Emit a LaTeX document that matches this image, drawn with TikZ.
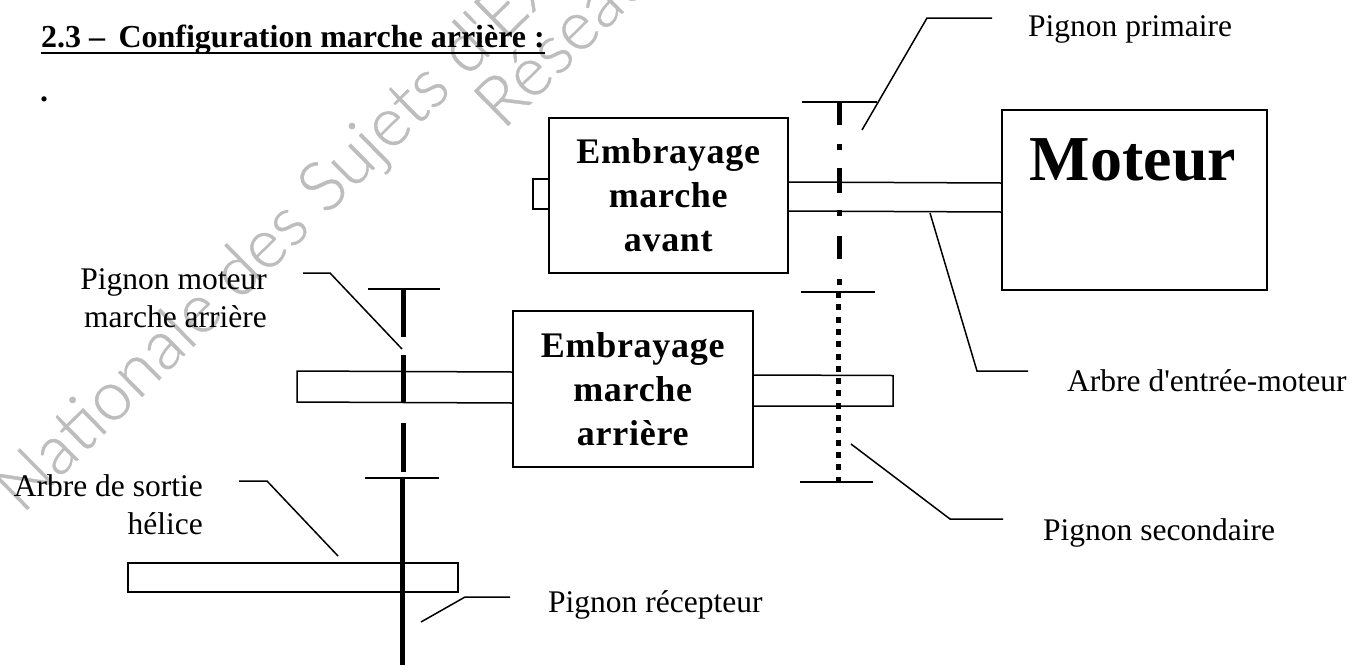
\documentclass[tikz,border=0pt]{standalone}
\usepackage{fontspec}
\setmainfont{Liberation Serif}
\newfontfamily\espace[LetterSpace=2.0]{Liberation Serif}
\newfontfamily\filigrane[FakeBold=0.6]{Lato Light}
\definecolor{gris}{gray}{0.74}
\begin{document}
\begin{tikzpicture}[x=1pt, y=-1pt, line join=miter, line cap=butt]
	\tikzset{every node/.style={inner sep=0pt, font=\fontsize{31.5}{38}\selectfont},
		boite/.style={draw, line width=1.5pt, anchor=north west, align=center},
		embrayage/.style={boite, minimum width=239pt, font=\fontsize{36}{44}\espace\bfseries},
		legende/.style={anchor=base west},
		trait/.style={line width=1.5pt},
		filig/.style={rotate=44.5, anchor=base west, text=gris, font=\fontsize{69}{69}\filigrane},
		pignon/.style={line width=5pt}}
	\useasboundingbox (0,0) rectangle (1352,667);
	\clip (0,0) rectangle (1352,667);
	% filigrane
	\node[filig] (fil1) at (22,515) {Nationale des Sujets d'Exa};
	\node[filig] (fil2) at (503,131) {Réseau};
	% titre
	\node[legende, font=\fontsize{32}{38}\selectfont\bfseries] (titre) at (41,47) {2.3 –\, Configuration marche arrière :};
	\draw[line width=2.4pt] ([yshift=-6pt]titre.base west) -- ([yshift=-6pt]titre.base east);
	\node[legende, font=\fontsize{32}{38}\selectfont\bfseries] (point) at (40,101) {.};
	% boites
	\node[embrayage, minimum height=155pt] (avant) at (548,117) {Embrayage\\marche\\avant};
	\node[embrayage, minimum width=240pt, minimum height=156pt] (arriere) at (512,310) {Embrayage\\marche\\arrière};
	\node[boite, minimum width=265pt, minimum height=180pt] (moteur) at (1001,109) {};
	\node[font=\fontsize{64}{64}\selectfont\bfseries] (moteurtxt) at (1133,160) {Moteur};
	% arbres
	\draw[trait] (avant.west |- 0,179) -- (533,179) -- (533,209) -- (avant.west |- 0,209);
	\draw[trait] (avant.east |- 0,182) -- (moteur.west |- 0,183);
	\draw[trait] (avant.east |- 0,211) -- (moteur.west |- 0,212);
	\draw[trait] (arriere.west |- 0,372) -- (297,371) -- (297,402) -- (arriere.west |- 0,403);
	\draw[trait] (arriere.east |- 0,375) -- (893,375.5) -- (893,406) -- (arriere.east |- 0,406);
	\draw[trait] (128,563) rectangle (458,592);
	% pignons
	\draw[trait] (802,102) -- (877,102);
	\draw[trait] (801,292) -- (875,292);
	\draw[trait] (800,482) -- (873,482);
	\draw[trait] (368,289) -- (440,289);
	\draw[trait] (365,478) -- (439,478);
	\foreach \ya/\yb in {103/125, 144/150, 168/193, 210/216, 236/259, 279/285}
		\draw[pignon] (839,\ya) -- (839,\yb);
	\foreach \i in {0,...,15}
		\draw[pignon] (838,295+12.3*\i-3) -- (838,295+12.3*\i+3);
	\foreach \ya/\yb in {289/337, 355/403, 423/472}
		\draw[pignon] (403,\ya) -- (403,\yb);
	\draw[pignon] (402,478) -- (402,665);
	% legendes
	\node[legende] (primaire) at (1028,36) {Pignon primaire};
	\node[legende] (entree) at (1067,391) {Arbre d\textquotesingle entrée-moteur};
	\node[legende] (secondaire) at (1043,540) {Pignon secondaire};
	\node[legende] (recepteur) at (548,612) {Pignon récepteur};
	\node[anchor=north east, align=right] (pmoteur) at (267,268) {Pignon moteur\\marche arrière};
	\node[anchor=north east, align=right] (sortie) at (203,474.5) {Arbre de sortie\\hélice};
	% traits de rappel
	\coordinate (a1) at (862,130); \coordinate (a2) at (927,18); \coordinate (a3) at (992,18);
	\draw[trait] (a1) -- (a2) -- (a3);
	\coordinate (b1) at (930,213); \coordinate (b2) at (977,371); \coordinate (b3) at (1028,371);
	\draw[trait] (b1) -- (b2) -- (b3);
	\coordinate (c1) at (851,444); \coordinate (c2) at (950,519); \coordinate (c3) at (1003,519);
	\draw[trait] (c1) -- (c2) -- (c3);
	\coordinate (d1) at (421,622); \coordinate (d2) at (465,597); \coordinate (d3) at (510,597);
	\draw[trait] (d1) -- (d2) -- (d3);
	\coordinate (e1) at (303,273); \coordinate (e2) at (330,273); \coordinate (e3) at (402,349);
	\draw[trait] (e1) -- (e2) -- (e3);
	\coordinate (f1) at (239,481); \coordinate (f2) at (267,481); \coordinate (f3) at (338,556);
	\draw[trait] (f1) -- (f2) -- (f3);
\end{tikzpicture}
\end{document}
